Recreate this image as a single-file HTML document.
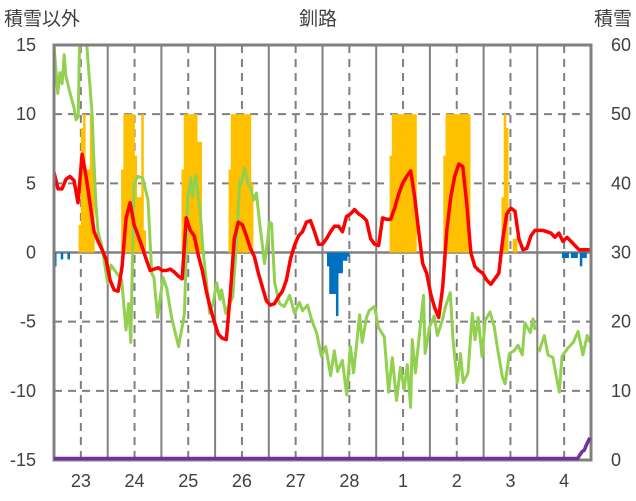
<!DOCTYPE html>
<html><head><meta charset="utf-8">
<style>
html,body{margin:0;padding:0;background:#fff;}
svg{display:block;font-family:"Liberation Sans","Noto Sans CJK JP",sans-serif;}
</style></head>
<body>
<svg id="chart" width="636" height="501" viewBox="0 0 636 501" xmlns="http://www.w3.org/2000/svg">
  <text x="318" y="25" font-size="19" text-anchor="middle" fill="#404040">釧路</text>
  <text x="4" y="25" font-size="19" fill="#404040">積雪以外</text>
  <text x="632" y="25" font-size="19" text-anchor="end" fill="#404040">積雪</text>
  <defs><clipPath id="plotclip"><rect x="54" y="45" width="537" height="415"/></clipPath></defs>
  <g id="grid"></g>
  <g id="bars" clip-path="url(#plotclip)"></g>
  <g id="lines" clip-path="url(#plotclip)"></g>
  <g id="axes"></g>
  <g id="snow"></g>
</svg>
<script>
const dayLabels = ["23","24","25","26","27","28","1","2","3","4"];
const leftTicks = [15,10,5,0,-5,-10,-15];
const rightTicks = [60,50,40,30,20,10,0];
// red series: uniform samples over 10 days
const redValues = [5.8,4.6,4.6,5.3,5.5,5.2,3.6,7.1,5.5,3.5,1.5,0.8,0.2,-0.5,-2,-2.7,-2.8,-1,2.5,3.6,2,1.2,0.4,-0.5,-1.3,-1.2,-1.1,-1.3,-1.3,-1.2,-1.4,-1.7,-1.9,2.5,1.6,1.2,-0.2,-1.3,-2.8,-4,-5,-5.9,-6.2,-6.3,-3,1,2.2,2,1.2,0.3,-0.3,-1.5,-2.5,-3.5,-3.8,-3.7,-3.2,-2.8,-2,-0.5,0.5,1.2,1.5,2.2,2.3,1.5,0.6,0.6,1.0,1.5,1.9,1.9,1.5,2.6,2.8,3.1,2.8,2.6,2.3,1.0,0.6,0.5,2.5,2.4,2.4,3.2,4.2,5.0,5.5,5.9,4,1.5,-0.8,-1.5,-3,-4,-4.7,-2.5,1.5,4,5.5,6.4,6.2,3.5,0,-1.0,-1.3,-1.5,-2,-2.3,-1.9,-1.5,1,2.8,3.2,3.0,1.0,0.2,0.3,1.2,1.6,1.6,1.6,1.5,1.4,1.1,1.4,0.8,1.1,0.8,0.5,0.2,0.2,0.2,0.2];
// green series: day offsets and values (null = gap)
const greenDays = [0,.04,.07,.11,.15,.19,.22,.30,.37,.41,.45,.48,.52,.59,.63,.67,.71,.74,.78,.82,.89,.93,1.00,1.06,1.17,1.26,1.34,1.39,1.43,1.49,1.56,1.65,1.75,1.82,1.86,1.93,2.03,2.10,2.19,2.32,2.43,2.49,2.55,2.58,2.64,2.68,2.73,2.77,2.84,2.90,2.96,3.03,3.09,3.12,3.20,3.25,3.33,3.40,3.46,3.49,3.55,3.61,3.66,3.72,3.77,3.83,3.87,3.92,3.98,4.01,4.05,4.11,4.20,4.29,4.39,4.48,4.57,4.63,4.72,4.80,4.89,4.98,5.06,5.15,5.22,5.28,5.37,5.45,5.52,5.58,5.69,5.74,5.82,5.87,5.97,6.04,6.15,6.23,6.30,6.38,6.45,6.52,6.58,6.64,6.67,6.73,6.88,6.91,6.99,7.08,7.14,7.23,7.29,7.38,7.43,7.51,7.57,7.62,7.71,7.79,7.84,7.90,7.97,8.03,8.12,8.20,8.25,8.35,8.40,8.48,8.57,8.64,8.72,8.77,8.87,8.92,8.96,9.00,9.03,9.13,9.20,9.29,9.41,9.46,9.57,9.67,9.76,9.85,9.93,9.98];
const greenValues = [15,13,11.5,13,12.2,14.3,12.8,11.5,10.5,9.6,9.8,16,16,16,14,12,10,7,3.5,1.5,0.5,-0.5,-2.2,-0.9,-1.5,-2,-5.6,-3.7,-6.5,5.0,5.5,5.4,3.8,-1.5,-1.8,-4.7,-1.8,-2.6,-4.7,-6.8,-4.4,4.0,5.4,4.0,5.6,4.3,2.6,0.4,-2.2,-4.4,-3.7,-2.2,-3.4,-2.7,-4.4,-3.9,-3.2,0.9,5.2,5.0,6.1,5.0,4.7,3.8,4.3,2.1,0.9,-0.8,0.9,2.2,2.1,-2.2,-3.7,-3.9,-3.1,-4.4,-3.6,-4.2,-3.8,-4.9,-5.8,-7.5,-6.8,-8.9,-7.1,-8.6,-7.8,-10.3,-6.8,-8.7,-4.5,-6.5,-4.7,-4.2,-3.9,-5.4,-6.1,-10.1,-7.6,-10.7,-8.3,-9.9,-8.1,-11.2,-6.3,-8.7,-3.1,-7.3,-5.4,-4.6,-6,-4.9,-3.9,-2.9,-6.3,-9.4,-7.3,-9.4,-8.7,-4.4,-6.3,-4.7,-7.5,-4.9,-4.3,-5.4,-6.7,-9.0,-9.5,-7.3,-7.1,-6.7,-7.4,-5.1,-5.8,-4.8,-5.6,null,-7.2,-6.0,-7.4,-7.6,-10.1,-7.5,-6.9,-6.5,-5.7,-7.4,-6.0,-6.5];
// hourly bars (hour offset, value on left axis)
const orangeHours = [11,12,13,14,15,16,17,30,31,32,33,34,35,36,37,38,39,40,57,58,59,60,61,62,63,64,65,78,79,80,81,82,83,84,85,86,87,88,150,151,152,153,154,155,156,157,158,159,160,161,174,175,176,177,178,179,180,181,182,183,184,185,200,201,202,205,206];
const orangeValues = [2,9,10,6,6,10,7,6,10,10,10,10,10,7,4,4,10,1.6,6,10,10,10,10,10,10,8,8,6,10,10,10,10,10,10,10,10,10,5,7,10,10,10,10,10,10,10,10,10,10,10,7,10,10,10,10,10,10,10,10,10,10,10,4,10,9,1,1];
const blueHours = [0,3,6,122,123,124,125,126,127,128,129,130,131,227,228,229,231,232,233,235,236,237];
const blueValues = [-1,-0.5,-0.5,-1,-3,-3,-3,-4.6,-1.5,-1.5,-0.6,-0.6,-0.3,-0.4,-0.4,-0.4,-0.4,-0.4,-0.4,-1,-0.4,-0.4];
// snow depth (right axis)
const snowHours = [0,234,235,236,237,238,239.5];
const snowValues = [0,0,0.5,1,1.2,2,3];

const NS="http://www.w3.org/2000/svg";
const X0=54,X1=591,Y0=45,Y1=460,DAYS=10;
function xDay(d){return X0+d/DAYS*(X1-X0);}
function xHour(h){return xDay(h/24);}
function yL(v){return Y1-(v+15)/30*(Y1-Y0);}
function yR(v){return Y1-v/60*(Y1-Y0);}
function mk(tag,attrs,parent){const e=document.createElementNS(NS,tag);for(const k in attrs)e.setAttribute(k,attrs[k]);parent.appendChild(e);return e;}
const grid=document.getElementById('grid'),bars=document.getElementById('bars'),lines=document.getElementById('lines'),axes=document.getElementById('axes'),snow=document.getElementById('snow');

leftTicks.forEach(v=>{
  if(v===15||v===-15||v===0)return;
  const l=mk('line',{x1:X0,x2:X1,y1:yL(v),y2:yL(v),stroke:'#808080','stroke-width':2,'stroke-dasharray':'8,6'},grid);
  
  
});
for(let d=1;d<DAYS;d++){
  const l=mk('line',{x1:xDay(d),x2:xDay(d),y1:Y0,y2:Y1,stroke:'#808080','stroke-width':2},grid);
  
  
}
for(let d=0;d<DAYS;d++){
  const l=mk('line',{x1:xDay(d+0.5),x2:xDay(d+0.5),y1:Y0,y2:Y1,stroke:'#808080','stroke-width':2,'stroke-dasharray':'8,6'},grid);
  
  
}
const bw=(X1-X0)/(DAYS*24);
orangeHours.forEach((h,i)=>{
  const v=orangeValues[i];
  const r=mk('rect',{x:xHour(h),y:yL(v),width:bw+0.3,height:yL(0)-yL(v),fill:'#FFC000'},bars);
  
  
});
blueHours.forEach((h,i)=>{
  const v=blueValues[i];
  const r=mk('rect',{x:xHour(h),y:yL(0),width:bw+0.3,height:yL(v)-yL(0),fill:'#0070C0'},bars);
  
  
});
const zl=mk('line',{x1:X0,x2:X1,y1:yL(0),y2:yL(0),stroke:'#808080','stroke-width':2.5},grid);



function pathFrom(xs,ys){let d='',pen=false;for(let i=0;i<xs.length;i++){if(ys[i]===null){pen=false;continue;}d+=(pen?'L':'M')+xs[i].toFixed(1)+','+ys[i].toFixed(1);pen=true;}return d;}
const gx=greenDays.map(xDay),gy=greenValues.map(v=>v===null?null:yL(v));
const gp=mk('path',{d:pathFrom(gx,gy),fill:'none',stroke:'#92D050','stroke-width':3,'stroke-linejoin':'round'},lines);


const rx=redValues.map((v,i)=>xDay(i/(redValues.length-1)*DAYS)),ry=redValues.map(yL);
const rp=mk('path',{d:pathFrom(rx,ry),fill:'none',stroke:'#FF0000','stroke-width':3.5,'stroke-linejoin':'round'},lines);



const fr=mk('rect',{x:X0,y:Y0,width:X1-X0,height:Y1-Y0,fill:'none',stroke:'#808080','stroke-width':3},axes);



const sx=snowHours.map(xHour),sy=snowValues.map(v=>yR(v)-1.5);
const sp=mk('path',{d:pathFrom(sx,sy),fill:'none',stroke:'#7030A0','stroke-width':3.5,'stroke-linejoin':'round'},snow);



leftTicks.forEach(v=>{
  const t=mk('text',{x:36,y:yL(v)+6,'font-size':18,'text-anchor':'end',fill:'#404040'},axes);
  t.textContent=String(v);
  
  
});
rightTicks.forEach(v=>{
  const t=mk('text',{x:611,y:yR(v)+6,'font-size':18,'text-anchor':'start',fill:'#404040'},axes);
  t.textContent=String(v);
  
  
});
dayLabels.forEach((s,i)=>{
  const t=mk('text',{x:xDay(i+0.5),y:487,'font-size':18,'text-anchor':'middle',fill:'#404040'},axes);
  t.textContent=s;
  
  
});
</script>
</body></html>
